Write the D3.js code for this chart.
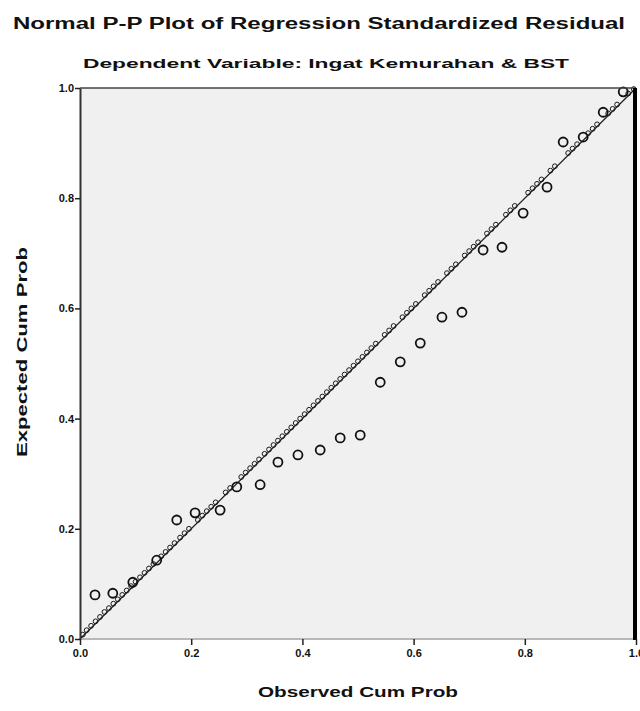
<!DOCTYPE html>
<html>
<head>
<meta charset="utf-8">
<script src="https://cdn.jsdelivr.net/npm/d3@7"></script>
<style>
  html, body { margin: 0; padding: 0; background: #ffffff; }
  svg { display: block; }
  text { font-family: "Liberation Sans", Arial, sans-serif; fill: #111; }
</style>
</head>
<body>
<svg id="chart" width="640" height="711"></svg>
<script>
// ---------- data ----------
const chartTitle = "Normal P-P Plot of Regression Standardized Residual";
const chartSubtitle = "Dependent Variable: Ingat Kemurahan & BST";
const xAxisTitle = "Observed Cum Prob";
const yAxisTitle = "Expected Cum Prob";
const tickValues = [0.0, 0.2, 0.4, 0.6, 0.8, 1.0];
const tickLabels = ["0.0", "0.2", "0.4", "0.6", "0.8", "1.0"];

// cases lying on / very near the reference line (observed, expected)
const nearObserved = [0.005,0.012,0.020,0.028,0.036,0.044,0.052,0.060,0.068,0.076,0.084,0.092,0.100,0.108,0.116,0.124,0.132,0.146,0.154,0.162,0.170,0.180,0.188,0.196,0.212,0.220,0.228,0.236,0.244,0.262,0.270,0.290,0.298,0.306,0.314,0.322,0.332,0.340,0.348,0.356,0.364,0.372,0.380,0.388,0.396,0.404,0.412,0.420,0.428,0.436,0.444,0.452,0.460,0.468,0.476,0.484,0.492,0.500,0.508,0.516,0.524,0.532,0.548,0.556,0.564,0.580,0.588,0.596,0.604,0.620,0.628,0.636,0.644,0.660,0.668,0.676,0.692,0.700,0.708,0.716,0.732,0.740,0.748,0.766,0.774,0.782,0.806,0.814,0.822,0.830,0.846,0.854,0.878,0.886,0.894,0.914,0.922,0.930,0.950,0.958,0.966,0.986,0.996];
const nearExpected = [0.008,0.016,0.024,0.032,0.040,0.049,0.056,0.064,0.072,0.080,0.088,0.096,0.104,0.112,0.120,0.128,0.136,0.150,0.158,0.166,0.174,0.184,0.192,0.200,0.216,0.224,0.232,0.240,0.248,0.266,0.274,0.294,0.302,0.310,0.318,0.326,0.336,0.344,0.352,0.360,0.368,0.376,0.384,0.392,0.400,0.408,0.416,0.424,0.432,0.440,0.448,0.456,0.464,0.472,0.480,0.488,0.496,0.504,0.512,0.520,0.528,0.536,0.552,0.560,0.568,0.584,0.592,0.600,0.608,0.624,0.632,0.640,0.648,0.664,0.672,0.680,0.696,0.704,0.712,0.720,0.736,0.744,0.752,0.770,0.778,0.786,0.810,0.818,0.826,0.834,0.850,0.858,0.882,0.890,0.898,0.918,0.926,0.934,0.954,0.962,0.970,0.990,0.998];

// cases away from the line (observed, expected)
const offObserved = [0.027,0.059,0.095,0.138,0.174,0.207,0.252,0.282,0.324,0.356,0.392,0.432,0.468,0.504,0.540,0.576,0.612,0.651,0.687,0.725,0.759,0.797,0.840,0.869,0.905,0.941,0.977];
const offExpected = [0.080,0.083,0.103,0.143,0.216,0.229,0.234,0.276,0.280,0.321,0.334,0.343,0.365,0.370,0.466,0.503,0.537,0.584,0.593,0.706,0.711,0.773,0.820,0.902,0.911,0.956,0.993];

// ---------- layout ----------
const plot = { left: 80, top: 88, right: 636, bottom: 639 };
const svg = d3.select("#chart");

const x = d3.scaleLinear().domain([0, 1]).range([plot.left, plot.right]);
const y = d3.scaleLinear().domain([0, 1]).range([plot.bottom, plot.top]);

// background
svg.append("rect")
  .attr("x", plot.left).attr("y", plot.top)
  .attr("width", plot.right - plot.left).attr("height", plot.bottom - plot.top)
  .attr("fill", "#f0f0f0");

// reference line
svg.append("line")
  .attr("x1", x(0)).attr("y1", y(0)).attr("x2", x(1)).attr("y2", y(1))
  .attr("stroke", "#222").attr("stroke-width", 1.3);

// points near line
const near = nearObserved.map((d, i) => [d, nearExpected[i]]);
svg.append("g").selectAll("circle").data(near).join("circle")
  .attr("cx", d => x(d[0])).attr("cy", d => y(d[1]))
  .attr("r", 2.4)
  .attr("fill", "none").attr("stroke", "#1a1a1a").attr("stroke-width", 1);

// points off line
const off = offObserved.map((d, i) => [d, offExpected[i]]);
svg.append("g").selectAll("circle").data(off).join("circle")
  .attr("cx", d => x(d[0])).attr("cy", d => y(d[1]))
  .attr("r", 4.5)
  .attr("fill", "none").attr("stroke", "#111").attr("stroke-width", 1.8);

// frame
svg.append("line").attr("x1", plot.left).attr("x2", plot.right).attr("y1", plot.top).attr("y2", plot.top)
  .attr("stroke", "#444").attr("stroke-width", 1.5);
svg.append("line").attr("x1", plot.left).attr("x2", plot.right).attr("y1", plot.bottom).attr("y2", plot.bottom)
  .attr("stroke", "#b8b8b8").attr("stroke-width", 2);
svg.append("line").attr("x1", plot.right - 1).attr("x2", plot.right - 1).attr("y1", plot.top).attr("y2", plot.bottom + 1)
  .attr("stroke", "#000").attr("stroke-width", 4);

// axes
const fmt = (d) => tickLabels[tickValues.indexOf(d)];
const yAxis = d3.axisLeft(y).tickValues(tickValues).tickFormat(fmt).tickSize(5).tickSizeOuter(0);
const xAxis = d3.axisBottom(x).tickValues(tickValues).tickFormat(fmt).tickSize(6).tickSizeOuter(0);

const gy = svg.append("g").attr("transform", `translate(${plot.left},0)`).call(yAxis);
gy.select(".domain").attr("stroke", "#333").attr("stroke-width", 2);
gy.selectAll(".tick line").attr("stroke", "#222").attr("stroke-width", 1.5);
gy.selectAll(".tick text").attr("font-size", 11).attr("font-weight", "bold").attr("fill", "#111").attr("x", -6);

const gx = svg.append("g").attr("transform", `translate(0,${plot.bottom})`).call(xAxis);
gx.select(".domain").remove();
gx.selectAll(".tick line").attr("stroke", "#222").attr("stroke-width", 1.5);
gx.selectAll(".tick text").attr("font-size", 11).attr("font-weight", "bold").attr("fill", "#111").attr("y", 10);

// titles
svg.append("text").attr("x", 319).attr("y", 29).attr("text-anchor", "middle")
  .attr("font-size", 16).attr("font-weight", "bold")
  .attr("textLength", 612).attr("lengthAdjust", "spacingAndGlyphs")
  .text(chartTitle);
svg.append("text").attr("x", 326).attr("y", 68).attr("text-anchor", "middle")
  .attr("font-size", 13).attr("font-weight", "bold")
  .attr("textLength", 486).attr("lengthAdjust", "spacingAndGlyphs")
  .text(chartSubtitle);

svg.append("text").attr("x", 358).attr("y", 697).attr("text-anchor", "middle")
  .attr("font-size", 15).attr("font-weight", "bold")
  .attr("textLength", 200).attr("lengthAdjust", "spacingAndGlyphs")
  .text(xAxisTitle);
svg.append("text").attr("transform", "translate(27,352) rotate(-90)").attr("text-anchor", "middle")
  .attr("font-size", 15).attr("font-weight", "bold")
  .attr("textLength", 210).attr("lengthAdjust", "spacingAndGlyphs")
  .text(yAxisTitle);
</script>
</body>
</html>
